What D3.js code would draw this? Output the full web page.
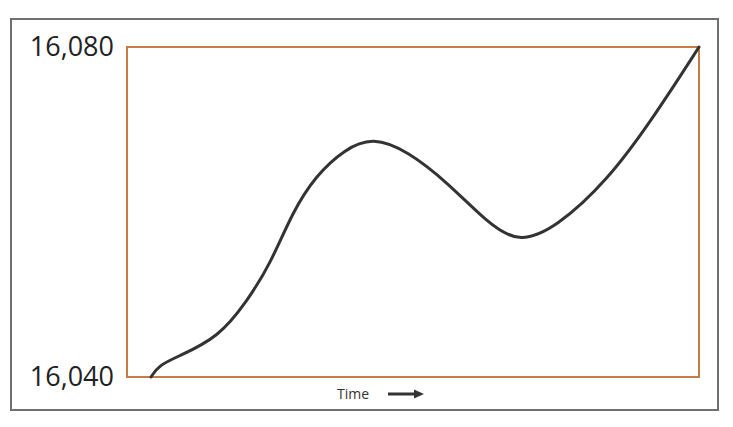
<!DOCTYPE html>
<html><head><meta charset="utf-8">
<script src="https://cdn.jsdelivr.net/npm/d3@7"></script>
<style>body{margin:0;background:#fff}svg{display:block}</style>
</head><body>
<svg id="c" width="733" height="427"></svg>
<script>
const times  = [4.2, 5.6, 9, 16, 21, 25, 29, 33, 38, 43, 49, 56, 63, 68.4, 75, 84, 92, 100];
const values = [16040, 16041.45, 16042.5, 16044.8, 16049.2, 16053.6, 16060.1, 16064.4, 16067.6, 16069.1, 16067.4, 16063.6, 16058.7, 16056.2, 16058.1, 16063.8, 16071.4, 16080];
const yTickLabels = ["16,040", "16,080"];
const yTickValues = [16040, 16080];
const xTitle = "Time";

const svg = d3.select("#c");
const x = d3.scaleLinear().domain([0, 100]).range([127, 699]);
const y = d3.scaleLinear().domain([16040, 16080]).range([377, 47]);

svg.append("rect").attr("x", 11).attr("y", 19).attr("width", 707).attr("height", 391)
  .attr("fill", "none").attr("stroke", "#707070").attr("stroke-width", 2);

svg.append("rect").attr("x", x(0)).attr("y", y(16080)).attr("width", x(100) - x(0)).attr("height", y(16040) - y(16080))
  .attr("fill", "none").attr("stroke", "#c97b47").attr("stroke-width", 2);

svg.selectAll(".yl").data(yTickValues).enter().append("text")
  .attr("x", 114).attr("y", d => y(d) + 9)
  .attr("text-anchor", "end")
  .attr("font-family", "Open Sans, sans-serif").attr("font-size", 27).attr("fill", "#222")
  .text((d, i) => yTickLabels[i]);

const data = times.map((t, i) => ({t, v: values[i]}));
svg.append("path").datum(data)
  .attr("d", d3.line().x(d => x(d.t)).y(d => y(d.v)).curve(d3.curveBasis))
  .attr("fill", "none").attr("stroke", "#333").attr("stroke-width", 3).attr("stroke-linecap", "round");

svg.append("text").attr("x", 337).attr("y", 399)
  .attr("font-family", "Open Sans, sans-serif").attr("font-size", 14).attr("fill", "#333").text(xTitle);

svg.append("line").attr("x1", 388).attr("x2", 416).attr("y1", 394).attr("y2", 394)
  .attr("stroke", "#333").attr("stroke-width", 3);
svg.append("path").attr("d", d3.line()([[414, 389.5], [424, 394], [414, 398.5]]) + "Z").attr("fill", "#333");
</script>
</body></html>
